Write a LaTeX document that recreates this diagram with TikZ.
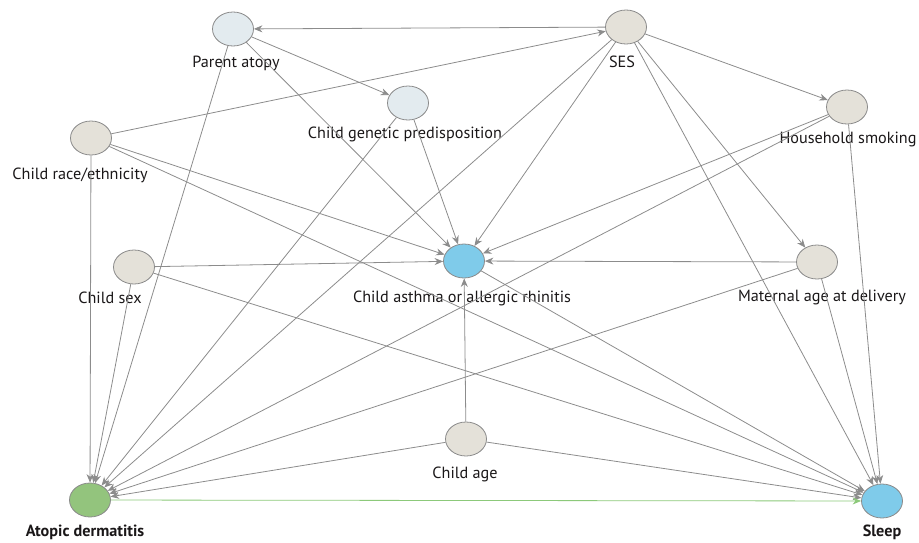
\documentclass[tikz,border=0pt]{standalone}
\usepackage{fontspec}
\setmainfont{PT Sans}
\usetikzlibrary{shapes.geometric,arrows.meta}
\definecolor{beige}{HTML}{E4E1D9}
\definecolor{lblue}{HTML}{E3EBEF}
\definecolor{sblue}{HTML}{7FCBEA}
\definecolor{dgreen}{HTML}{93C47D}
\definecolor{ndline}{HTML}{8A8A8A}
\definecolor{edgec}{HTML}{8C8C8C}
\definecolor{grn}{HTML}{8CC97A}
\definecolor{txt}{HTML}{1A1718}
\begin{document}
\begin{tikzpicture}[x=1pt,y=-1pt,
  nd/.style={ellipse, draw=ndline, line width=0.8pt, minimum width=41pt, minimum height=34pt, inner sep=0pt},
  lbl/.style={font=\fontsize{16.2}{19}\selectfont, text=txt, inner sep=0pt},
  blbl/.style={lbl, font=\fontsize{16.2}{19}\selectfont\bfseries},
  ed/.style={draw=edgec, line width=0.8pt, -{Stealth[length=8.5pt,width=7pt]}},
  ged/.style={draw=grn, line width=0.8pt, -{Stealth[length=8.5pt,width=7pt]}}
]
\useasboundingbox (0,0) rectangle (919,542);
% nodes
\node[nd, fill=lblue] (pa) at (233,29) {};
\node[nd, fill=beige] (ses) at (626,27) {};
\node[nd, fill=lblue] (cg) at (408,103) {};
\node[nd, fill=beige] (hs) at (847,107) {};
\node[nd, fill=beige] (cr) at (91,138) {};
\node[nd, fill=beige] (cs) at (134,267) {};
\node[nd, fill=sblue] (as) at (464,261) {};
\node[nd, fill=beige] (ma) at (817,262) {};
\node[nd, fill=beige] (ca) at (466,439) {};
\node[nd, fill=dgreen] (ad) at (90,500) {};
\node[nd, fill=sblue] (sl) at (882,501) {};
% labels
\node[lbl] (lpa) at (236,63) {Parent atopy};
\node[lbl] (lses) at (622,62) {SES};
\node[lbl] (lcg) at (405,134) {Child genetic predisposition};
\node[lbl] (lhs) at (848,139) {Household smoking};
\node[lbl] (lcr) at (80,175) {Child race/ethnicity};
\node[lbl] (lcs) at (110,298) {Child sex};
\node[lbl] (las) at (462,298) {Child asthma or allergic rhinitis};
\node[lbl] (lma) at (822,297) {Maternal age at delivery};
\node[lbl] (lca) at (465,474) {Child age};
\node[blbl] (lad) at (85,532) {Atopic dermatitis};
\node[blbl] (lsl) at (882,532) {Sleep};
% edges
\draw[ed] (ses) -- (pa);
\draw[ed] (pa) -- (cg);
\draw[ed] (pa) -- (as);
\draw[ed] (pa) -- (ad);
\draw[ed] (cr) -- (ses);
\draw[ed] (cr) -- (as);
\draw[ed] (cr) -- (sl);
\draw[ed] (cr) -- (ad);
\draw[ed] (cg) -- (as);
\draw[ed] (cg) -- (ad);
\draw[ed] (ses) -- (hs);
\draw[ed] (ses) -- (as);
\draw[ed] (ses) -- (ad);
\draw[ed] (ses) -- (sl);
\draw[ed] (ses) -- (ma);
\draw[ed] (hs) -- (as);
\draw[ed] (hs) -- (ad);
\draw[ed] (hs) -- (sl);
\draw[ed] (cs) -- (as);
\draw[ed] (cs) -- (sl);
\draw[ed] (cs) -- (ad);
\draw[ed] (ma) -- (as);
\draw[ed] (ma) -- (ad);
\draw[ed] (ma) -- (sl);
\draw[ed] (ca) -- (as);
\draw[ed] (ca) -- (ad);
\draw[ed] (ca) -- (sl);
\draw[ed] (as) -- (sl);
\draw[ged] (ad) -- (sl);
\end{tikzpicture}
\end{document}
